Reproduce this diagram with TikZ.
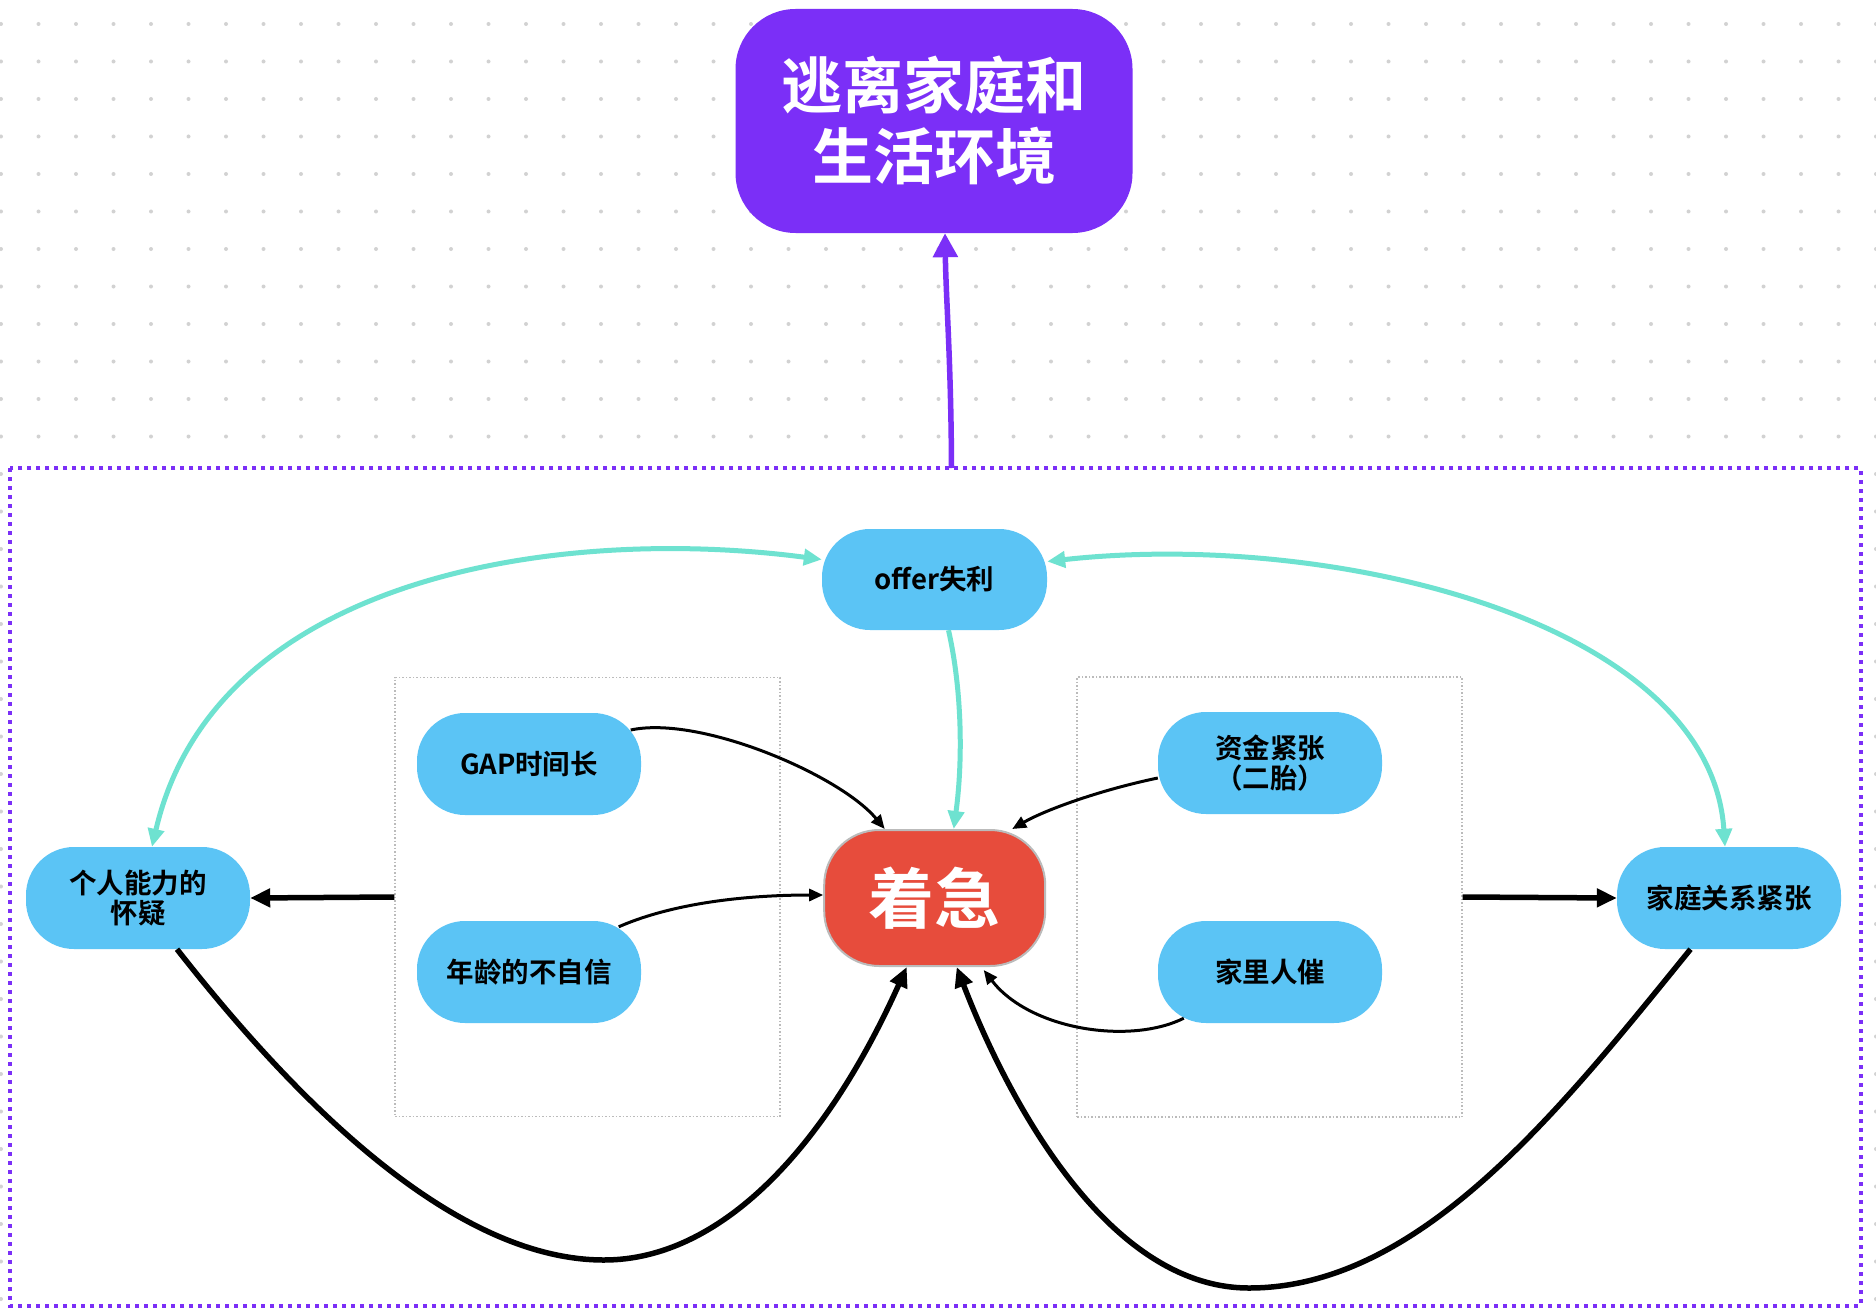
\documentclass[tikz,border=0pt]{standalone}
\usepackage{fontspec}
\setmainfont{Noto Sans CJK SC}[BoldFont={Noto Sans CJK SC Bold}]
\usetikzlibrary{arrows.meta}

\definecolor{purpleMain}{HTML}{7B2FF7}
\definecolor{skyBlue}{HTML}{5BC4F5}
\definecolor{alertRed}{HTML}{E74C3C}
\definecolor{mintLine}{HTML}{6EE2D0}
\definecolor{dotGray}{HTML}{D2D2D2}
\definecolor{boxGray}{HTML}{BBBBBB}

\tikzset{
  pill/.style={fill=skyBlue, rounded corners=48pt, minimum width=224pt,
    minimum height=102pt, inner sep=0pt, align=center, text=black,
    font=\fontsize{27.5}{30}\selectfont\bfseries},
  groupbox/.style={draw=boxGray, line width=1.2pt, dash pattern=on 1.5pt off 2pt,
    minimum width=385pt, minimum height=439pt, inner sep=0pt},
  thickarrow/.style={line width=5.5pt, -{Triangle[length=20pt,width=18pt]}},
  thinarrow/.style={line width=3pt, -{Triangle[length=14pt,width=12pt]}},
  mintboth/.style={mintLine, line width=5pt,
    {Triangle[length=18pt,width=16pt]}-{Triangle[length=18pt,width=16pt]}},
  mintend/.style={mintLine, line width=5pt, -{Triangle[length=18pt,width=16pt]}},
  escarrow/.style={purpleMain, line width=5.5pt, -{Triangle[length=24pt,width=24pt]}},
}

\begin{document}
\begin{tikzpicture}[x=1pt,y=-1pt]
\useasboundingbox (0,0) rectangle (1876,1316);
\fill[white] (0,0) rectangle (1876,1316);

% dotted canvas grid
\foreach \i in {0,...,50}
  \foreach \j in {0,...,34}
    \fill[dotGray] (1+37.5*\i, 24+37.5*\j) circle[radius=2pt];

% purple dotted frame around the cause map
\fill[white] (9.6,468) rectangle (1860.5,1305.5);
\draw[purpleMain, line width=4pt, dash pattern=on 4pt off 5pt] (9.6,468) rectangle (1860.5,1305.5);
\coordinate (frametop) at (951.5,468);

% goal box
\node[fill=purpleMain, rounded corners=60pt, minimum width=397pt, minimum height=224pt,
  inner sep=0pt, align=center, text=white, font=\fontsize{61}{71}\selectfont\bfseries]
  (escape) at (934,121) {逃离家庭和\\生活环境};

% grouping frames
\node[groupbox] (leftgroup) at (587.5,897) {};
\node[groupbox, minimum height=440pt] (rightgroup) at (1269.5,897) {};

% cause nodes
\node[pill, minimum width=225pt, minimum height=101pt] (offer) at (934.5,579.5) {offer失利};
\node[pill] (gap) at (529,764) {GAP时间长};
\node[pill] (age) at (529,972) {年龄的不自信};
\node[pill] (funds) at (1270,763) {资金紧张\\（二胎）};
\node[pill] (urge) at (1270,972) {家里人催};
\node[pill] (ability) at (138,898) {个人能力的\\怀疑};
\node[pill] (family) at (1729,898) {家庭关系紧张};

% central node
\node[fill=alertRed, draw=boxGray, line width=2pt, rounded corners=55pt,
  minimum width=221pt, minimum height=136pt, inner sep=0pt, text=white,
  font=\fontsize{66}{70}\selectfont\bfseries] (worry) at (934.7,898) {着急};

% arrow to the goal
\draw[escarrow] (frametop) .. controls (951,360) and (946,300) .. ([xshift=11pt]escape.south);

% mint links around offer
\draw[mintboth] ([yshift=20pt]offer.west)
  .. controls (560,525) and (215,575) .. ([xshift=14pt]ability.north);
\draw[mintboth] ([yshift=18pt]offer.east)
  .. controls (1330,530) and (1710,620) .. ([xshift=-4pt]family.north);
\draw[mintend] ([xshift=14pt]offer.south)
  .. controls (962,690) and (963,760) .. ([xshift=19pt]worry.north);

% causes into the central node
\draw[thinarrow] ([xshift=-10.5pt,yshift=34pt]gap.east)
  .. controls (700,715) and (840,775) .. ([xshift=-50pt]worry.north);
\draw[thinarrow] ([xshift=-22.5pt,yshift=-6pt]age.north east)
  .. controls (680,900) and (760,895) .. ([yshift=3pt]worry.west);
\draw[thinarrow] ([yshift=-15pt]funds.west)
  .. controls (1100,790) and (1045,810) .. ([xshift=-34pt]worry.north east);
\draw[thinarrow] ([xshift=26pt,yshift=5pt]urge.south west)
  .. controls (1130,1045) and (1030,1030) .. ([xshift=49pt,yshift=-3pt]worry.south);

% group outputs
\draw[thickarrow] (leftgroup.west) -- (ability.east);
\draw[thickarrow] (rightgroup.east) -- (family.west);

% feedback loops back into the central node
\draw[thickarrow] ([xshift=39pt]ability.south)
  .. controls (327,1141) and (474,1260) .. (604,1260)
  .. controls (720,1260) and (825,1149) .. ([xshift=-28pt]worry.south);
\draw[thickarrow] ([xshift=-38.5pt]family.south)
  .. controls (1560,1110) and (1420,1288) .. (1249,1288)
  .. controls (1100,1288) and (1000,1080) .. ([xshift=22pt]worry.south);
\end{tikzpicture}
\end{document}
